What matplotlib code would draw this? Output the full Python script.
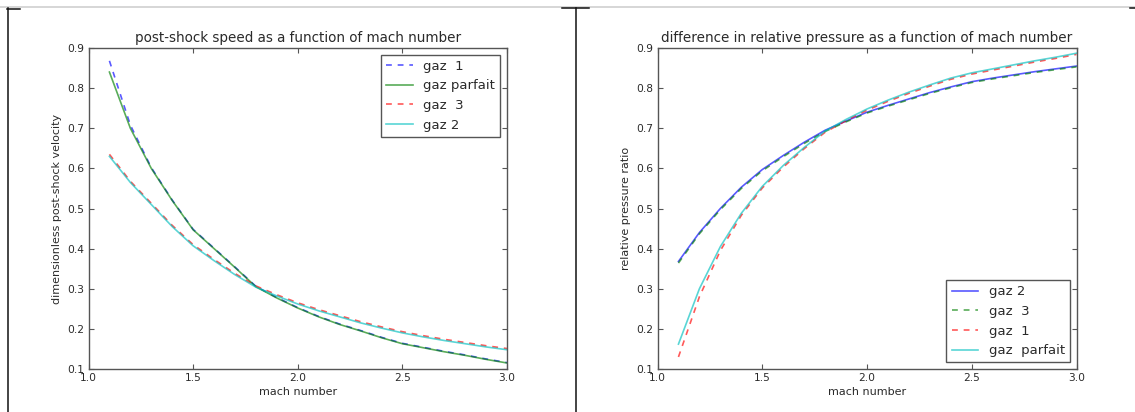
import matplotlib
matplotlib.use("Agg")
import matplotlib.pyplot as plt
from matplotlib.lines import Line2D

# ---------------- data ----------------
mach = [1.1, 1.2, 1.3, 1.4, 1.5, 1.6, 1.7, 1.8, 1.9, 2.0,
        2.1, 2.2, 2.3, 2.4, 2.5, 2.6, 2.7, 2.8, 2.9, 3.0]

# left panel: post-shock velocity
vel_gaz1 = [0.868, 0.708, 0.602, 0.521, 0.448, 0.401, 0.354, 0.306, 0.278, 0.253,
            0.231, 0.212, 0.196, 0.179, 0.164, 0.154, 0.144, 0.135, 0.125, 0.116]
vel_parfait = [0.840, 0.700, 0.600, 0.520, 0.447, 0.400, 0.353, 0.305, 0.277, 0.252,
               0.230, 0.211, 0.195, 0.178, 0.163, 0.153, 0.143, 0.134, 0.124, 0.115]
vel_gaz3 = [0.635, 0.568, 0.513, 0.458, 0.410, 0.373, 0.338, 0.307, 0.285, 0.265,
            0.248, 0.233, 0.218, 0.205, 0.193, 0.183, 0.174, 0.166, 0.158, 0.151]
vel_gaz2 = [0.630, 0.565, 0.510, 0.455, 0.407, 0.370, 0.335, 0.304, 0.282, 0.262,
            0.245, 0.230, 0.215, 0.202, 0.190, 0.180, 0.171, 0.163, 0.155, 0.148]

# right panel: relative pressure ratio
pr_gaz2 = [0.368, 0.440, 0.500, 0.553, 0.597, 0.632, 0.665, 0.695, 0.718, 0.740,
           0.757, 0.773, 0.789, 0.803, 0.816, 0.825, 0.833, 0.841, 0.848, 0.855]
pr_gaz3 = [0.364, 0.437, 0.497, 0.550, 0.594, 0.629, 0.662, 0.692, 0.716, 0.738,
           0.755, 0.771, 0.787, 0.801, 0.814, 0.823, 0.831, 0.839, 0.846, 0.853]
pr_gaz1 = [0.130, 0.280, 0.395, 0.483, 0.551, 0.603, 0.649, 0.690, 0.719, 0.745,
           0.767, 0.787, 0.805, 0.822, 0.835, 0.845, 0.855, 0.865, 0.874, 0.884]
pr_parfait = [0.162, 0.300, 0.405, 0.488, 0.555, 0.607, 0.652, 0.693, 0.722, 0.748,
              0.770, 0.790, 0.808, 0.825, 0.838, 0.848, 0.858, 0.868, 0.877, 0.887]

x_ticks = [1.0, 1.5, 2.0, 2.5, 3.0]
y_ticks = [0.1, 0.2, 0.3, 0.4, 0.5, 0.6, 0.7, 0.8, 0.9]

# ---------------- figure ----------------
W, H = 1135, 412
fig = plt.figure(figsize=(W / 100, H / 100), dpi=100)
fig.patch.set_facecolor("white")

TXT = "#2a2a2a"
EDGE = "#555555"
ALPHA = 0.65
LW = 1.2
DASH = (3.5, 3.5)


def px_rect(x0, y0, x1, y1):
    return [x0 / W, 1 - y1 / H, (x1 - x0) / W, (y1 - y0) / H]


def style_axes(ax):
    ax.set_xlim(1.0, 3.0)
    ax.set_ylim(0.1, 0.9)
    ax.set_xticks(x_ticks)
    ax.set_yticks(y_ticks)
    ax.set_xticklabels([f"{t:.1f}" for t in x_ticks])
    ax.set_yticklabels([f"{t:.1f}" for t in y_ticks])
    ax.tick_params(direction="in", top=True, right=True, length=3.5,
                   width=0.8, color=EDGE, labelsize=7.7, labelcolor=TXT, pad=3)
    for s in ax.spines.values():
        s.set_color(EDGE)
        s.set_linewidth(1.0)
    ax.set_xlabel("mach number", fontsize=8, color=TXT, labelpad=3)


def style_legend(leg):
    fr = leg.get_frame()
    fr.set_edgecolor(EDGE)
    fr.set_linewidth(1.0)
    for t in leg.get_texts():
        t.set_color(TXT)


# left axes
ax1 = fig.add_axes(px_rect(88.5, 48, 507, 369))
ax1.plot(mach, vel_gaz1, color="b", ls="--", dashes=DASH, lw=LW, alpha=ALPHA, label="gaz  1")
ax1.plot(mach, vel_parfait, color="g", ls="-", lw=LW, alpha=ALPHA, label="gaz parfait")
ax1.plot(mach, vel_gaz3, color="r", ls="--", dashes=DASH, lw=LW, alpha=ALPHA, label="gaz  3")
ax1.plot(mach, vel_gaz2, color="c", ls="-", lw=LW, alpha=ALPHA, label="gaz 2")
style_axes(ax1)
ax1.set_ylabel("dimensionless post-shock velocity", fontsize=8, color=TXT, labelpad=4)
ax1.set_title("post-shock speed as a function of mach number", fontsize=9.75,
              color=TXT, pad=4)
leg1 = ax1.legend(loc="upper right", fontsize=9.5, frameon=True, fancybox=False,
                  framealpha=1, borderpad=0.4, labelspacing=0.5, handlelength=2.0,
                  handletextpad=0.8, borderaxespad=0.5)
style_legend(leg1)

# right axes
ax2 = fig.add_axes(px_rect(657.5, 48, 1076.5, 369))
ax2.plot(mach, pr_gaz2, color="b", ls="-", lw=LW, alpha=ALPHA, label="gaz 2")
ax2.plot(mach, pr_gaz3, color="g", ls="--", dashes=DASH, lw=LW, alpha=ALPHA, label="gaz  3")
ax2.plot(mach, pr_gaz1, color="r", ls="--", dashes=DASH, lw=LW, alpha=ALPHA, label="gaz  1")
ax2.plot(mach, pr_parfait, color="c", ls="-", lw=LW, alpha=ALPHA, label="gaz  parfait")
style_axes(ax2)
ax2.set_ylabel("relative pressure ratio", fontsize=8, color=TXT, labelpad=4)
ax2.set_title("difference in relative pressure as a function of mach number",
              fontsize=9.75, color=TXT, pad=4)
leg2 = ax2.legend(loc="lower right", fontsize=9.5, frameon=True, fancybox=False,
                  framealpha=1, borderpad=0.4, labelspacing=0.5, handlelength=2.0,
                  handletextpad=0.8, borderaxespad=0.5)
style_legend(leg2)


# notebook-like page decorations
def fline(xs, ys, **kw):
    fig.add_artist(Line2D([x / W for x in xs], [1 - y / H for y in ys],
                          transform=fig.transFigure, **kw))


fline([0, W], [6.5, 6.5], color="#cfcfcf", lw=1.2)
fline([7.5, 7.5], [8, H], color="#111111", lw=1.1)
fline([7, 20], [8.5, 8.5], color="#111111", lw=1.1)
fline([575.7, 575.7], [8, H], color="#111111", lw=1.1)
fline([562, 589], [8, 8], color="#111111", lw=1.1)
fline([1130, W], [8, 8], color="#111111", lw=1.1)

fig.savefig("out.png", dpi=100, facecolor="white")
